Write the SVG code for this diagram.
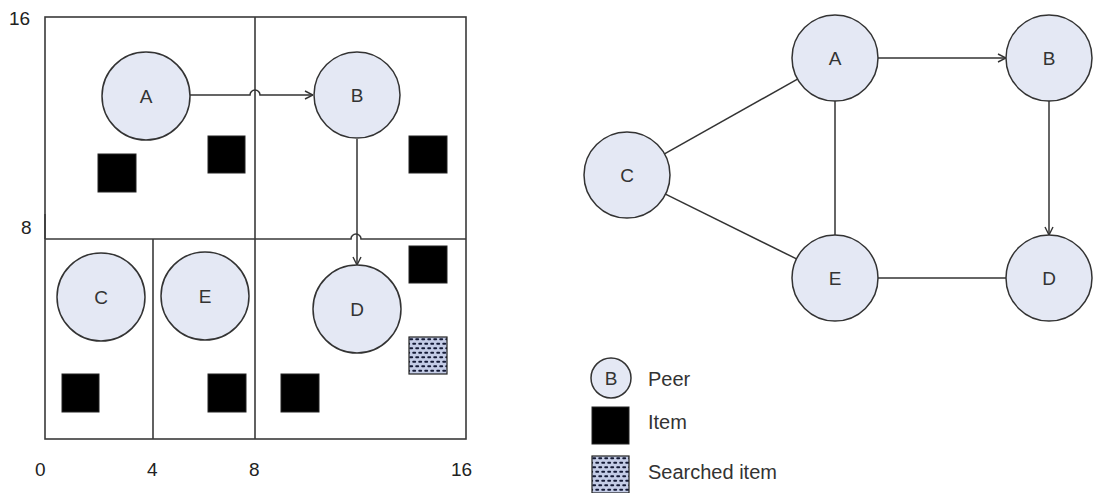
<svg xmlns="http://www.w3.org/2000/svg" width="1105" height="493" viewBox="0 0 1105 493">
  <defs>
    <style>
      .grid { fill: none; stroke: #3a3a3a; stroke-width: 1.6; }
      .peer { fill: #e4e8f4; stroke: #333; stroke-width: 1.5; }
      .item { fill: #000; stroke: #222; stroke-width: 1; }
      .found { fill: url(#dots); stroke: #222; stroke-width: 1.2; }
      .link { fill: none; stroke: #333; stroke-width: 1.5; }
      .arrow { marker-end: url(#open); }
      .lbl { font-family: "Liberation Sans", Arial, sans-serif; font-size: 19px; fill: #333; text-anchor: middle; }
      .axis { font-family: "Liberation Sans", Arial, sans-serif; font-size: 19px; fill: #222; }
      .legend { font-family: "Liberation Sans", Arial, sans-serif; font-size: 20px; fill: #333; }
    </style>
    <marker id="open" viewBox="0 0 10 10" refX="10" refY="5" markerWidth="10" markerHeight="10" markerUnits="userSpaceOnUse" orient="auto">
      <path d="M2,1 L10,5 L2,9" fill="none" stroke="#333" stroke-width="1.4"/>
    </marker>
    <pattern id="dots" width="6" height="9" patternUnits="userSpaceOnUse" x="409" y="337">
      <rect width="6" height="9" fill="#c4cce6"/>
      <rect x="0.3" y="1.3" width="3.8" height="2" rx="0.8" fill="#141a36"/>
      <rect x="3.3" y="5.8" width="3.8" height="2" rx="0.8" fill="#141a36"/>
      <rect x="-2.7" y="5.8" width="3.8" height="2" rx="0.8" fill="#141a36"/>
    </pattern>
    <pattern id="dots2" href="#dots" x="592" y="456"/>
  </defs>

  <rect width="1105" height="493" fill="#fff"/>

  <!-- Left: partitioned key space -->
  <g id="space-grid">
    <rect class="grid" x="45" y="17" width="421" height="422"/>
    <line class="grid" x1="255" y1="17" x2="255" y2="439"/>
    <line class="grid" x1="153" y1="239" x2="153" y2="439"/>
    <path class="grid" d="M45,239 H351 a5,5 0 0 1 10,0 H466"/>
    <line class="grid" x1="45" y1="214" x2="45" y2="239" stroke-width="2.4"/>
  </g>

  <g id="axis-labels">
    <text class="axis" x="9" y="25">16</text>
    <text class="axis" x="21" y="234">8</text>
    <text class="axis" x="35" y="476">0</text>
    <text class="axis" x="147" y="476">4</text>
    <text class="axis" x="249" y="476">8</text>
    <text class="axis" x="451" y="476">16</text>
  </g>

  <g id="items">
    <rect class="item" x="98" y="154" width="38" height="38"/>
    <rect class="item" x="208" y="136" width="37" height="37"/>
    <rect class="item" x="409" y="136" width="38" height="37"/>
    <rect class="item" x="409" y="246" width="38" height="37"/>
    <rect class="item" x="62" y="374" width="37" height="38"/>
    <rect class="item" x="208" y="374" width="38" height="38"/>
    <rect class="item" x="281" y="374" width="38" height="38"/>
    <rect class="found" x="409" y="337" width="38" height="37"/>
  </g>

  <g id="space-links">
    <path class="link arrow" d="M190,95 H250 a5,5 0 0 1 10,0 H313"/>
    <path class="link arrow" d="M357,139 V265"/>
  </g>

  <g id="space-peer-A"><circle class="peer" cx="146" cy="96" r="44"/><text class="lbl" x="146" y="103">A</text></g>
  <g id="space-peer-B"><circle class="peer" cx="357" cy="95" r="43"/><text class="lbl" x="357" y="102">B</text></g>
  <g id="space-peer-C"><circle class="peer" cx="101" cy="297" r="44"/><text class="lbl" x="101" y="304">C</text></g>
  <g id="space-peer-E"><circle class="peer" cx="205" cy="296" r="44"/><text class="lbl" x="205" y="303">E</text></g>
  <g id="space-peer-D"><circle class="peer" cx="357" cy="309" r="44"/><text class="lbl" x="357" y="316">D</text></g>

  <!-- Right: overlay graph -->
  <g id="graph-links">
    <path class="link arrow" d="M878,58 H1006"/>
    <path class="link arrow" d="M1049,101 V235"/>
    <path class="link" d="M835,101 V235"/>
    <path class="link" d="M878,278 H1006"/>
    <path class="link" d="M664.5,153.9 L797.5,79.1"/>
    <path class="link" d="M665.5,194.1 L796.5,258.9"/>
  </g>

  <g id="graph-peer-A"><circle class="peer" cx="835" cy="58" r="43"/><text class="lbl" x="835" y="65">A</text></g>
  <g id="graph-peer-B"><circle class="peer" cx="1049" cy="58" r="43"/><text class="lbl" x="1049" y="65">B</text></g>
  <g id="graph-peer-C"><circle class="peer" cx="627" cy="175" r="43"/><text class="lbl" x="627" y="182">C</text></g>
  <g id="graph-peer-E"><circle class="peer" cx="835" cy="278" r="43"/><text class="lbl" x="835" y="285">E</text></g>
  <g id="graph-peer-D"><circle class="peer" cx="1049" cy="278" r="43"/><text class="lbl" x="1049" y="285">D</text></g>

  <!-- Legend -->
  <g id="legend">
    <circle class="peer" cx="611" cy="378" r="20"/>
    <text class="lbl" x="611" y="385">B</text>
    <text class="legend" x="648" y="386">Peer</text>
    <rect class="item" x="592" y="407" width="37" height="37"/>
    <text class="legend" x="648" y="429">Item</text>
    <rect class="found" x="592" y="456" width="37" height="37" style="fill:url(#dots2)"/>
    <text class="legend" x="648" y="479">Searched item</text>
  </g>
</svg>
